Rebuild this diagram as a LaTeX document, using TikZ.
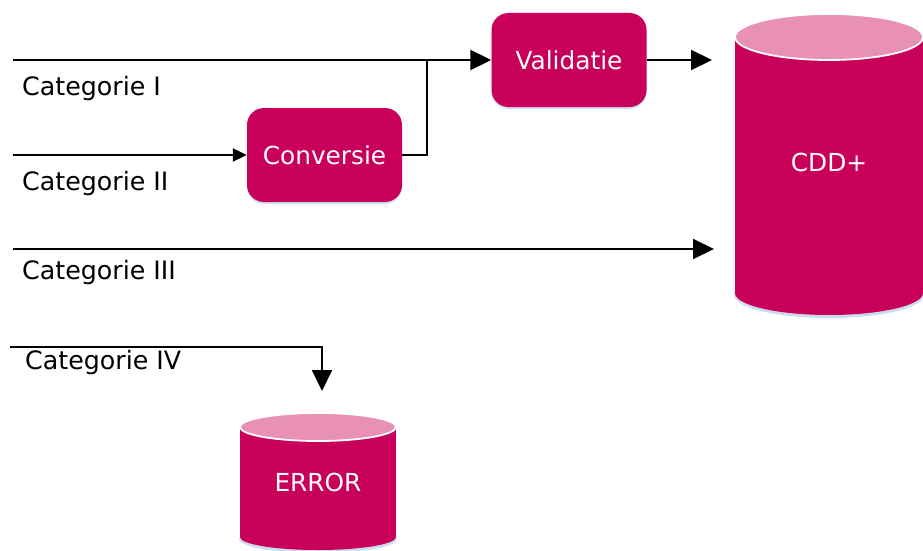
\documentclass[tikz,border=0pt]{standalone}
\usepackage{fontspec}
\setmainfont{DejaVu Sans}
\usetikzlibrary{arrows.meta,shadows}
\definecolor{berry}{RGB}{200,0,90}
\definecolor{berrytop}{RGB}{232,145,181}
\definecolor{glow}{RGB}{200,222,240}
\begin{document}
\begin{tikzpicture}[x=1pt,y=-1pt,
  txt/.style={font=\fontsize{24.8}{28}\selectfont},
  lbl/.style={font=\fontsize{25.3}{28}\selectfont,anchor=base west,inner sep=0pt},
  proc/.style={txt,rounded corners=17pt,fill=berry,text=white,
    minimum width=155pt,minimum height=94pt,inner sep=0pt,
    drop shadow={shadow xshift=0pt,shadow yshift=-2pt,fill=glow,opacity=.9}},
  flow/.style={line width=2pt,black},
  bigtip/.style={flow,-{Triangle[length=21pt,width=20pt]}},
  smalltip/.style={flow,-{Triangle[length=14pt,width=13pt]}}]
\useasboundingbox (0,0) rectangle (923,551);

% storage drum: #1 centre x, #2 top y, #3 bottom y, #4 x radius, #5 top y radius, #6 bottom y radius
\newcommand\drawdrum[6]{%
  \fill[glow] (#1,#3+2) ellipse [x radius=#4pt+1pt,y radius=#6pt+1pt];
  \fill[berry] (#1,#3) ellipse [x radius=#4pt,y radius=#6pt];
  \fill[berry] (#1-#4,#2) rectangle (#1+#4,#3);
  \filldraw[fill=berrytop,draw=white,line width=1.8pt] (#1,#2) ellipse [x radius=#4pt,y radius=#5pt];
}

% process boxes
\node[proc] (valid) at (569,60) {Validatie};
\node[proc] (conv) at (324.5,155) {Conversie};

% storage
\drawdrum{829}{37}{293}{94}{23}{22}
\node[txt,text=white] (cdd) at (829,162) {CDD+};
\drawdrum{318}{427}{537}{78}{14}{13}
\node[txt,text=white] (err) at (318,482) {ERROR};

% connector ends
\coordinate (s1) at (13,60);
\coordinate (s2) at (13,155);
\coordinate (s3) at (13,249);
\coordinate (s4) at (10,347);
\coordinate (join) at (427,60);
\coordinate (cddA) at (712,60);
\coordinate (cddB) at (714,249);
\coordinate (errIn) at (322,391);

% connectors
\draw[bigtip] (s1) -- (valid.west);
\draw[smalltip] (s2) -- (conv.west);
\draw[flow] (conv.east) -| (join);
\draw[bigtip] (valid.east) -- (cddA);
\draw[bigtip] (s3) -- (cddB);
\draw[bigtip] (s4) -| (errIn);

% category labels
\node[lbl] (c1) at (22,95) {Categorie I};
\node[lbl] (c2) at (22,190) {Categorie II};
\node[lbl] (c3) at (22,279) {Categorie III};
\node[lbl] (c4) at (25,369) {Categorie IV};
\end{tikzpicture}
\end{document}
